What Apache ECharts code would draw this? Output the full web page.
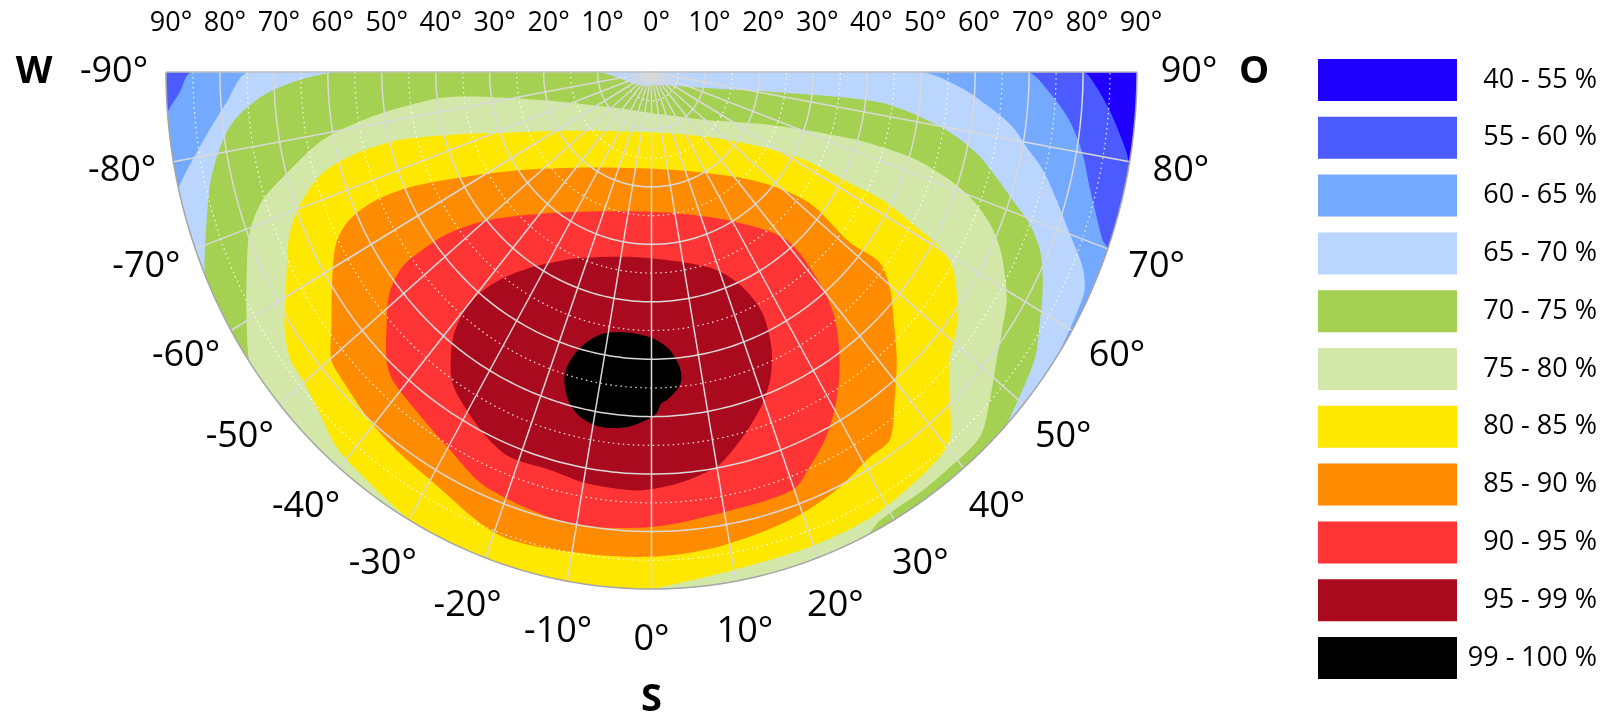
<!DOCTYPE html>
<html><head><meta charset="utf-8">
<script src="https://cdn.jsdelivr.net/npm/echarts/dist/echarts.min.js"></script>
<style>html,body{margin:0;padding:0;background:#fff}#c{width:1602px;height:717px}</style>
</head><body><div id="c"></div>
<script>
// ---- legend classes ----
const levelLabels = ['40 - 55 %','55 - 60 %','60 - 65 %','65 - 70 %','70 - 75 %','75 - 80 %','80 - 85 %','85 - 90 %','90 - 95 %','95 - 99 %','99 - 100 %'];
const levelColors = ['#1F00FF','#4B5BFF','#73A9FF','#BAD6FF','#A5D152','#D3E8A8','#FFE800','#FF8C00','#FF3535','#AA0A1E','#000000'];
// ---- axis ticks ----
const azimuthTicks = [-90,-80,-70,-60,-50,-40,-30,-20,-10,0,10,20,30,40,50,60,70,80,90];
const tiltTicks = [0,10,20,30,40,50,60,70,80,90];
const tiltGrid = [5,10,15,20,25,30,35,40,45,50,55,60,65,70,75,80,85];
const compass = ['W','O','S'];
// ---- contour regions (value >= class lower bound), points as [azimuth, tilt] ----
const contour40 = [[-90,90],[90,90],[0,0]];
const contour55 = [[90,79.9],[88.2,82.5],[85.5,85.2],[83,87.4],[80.9,89.2],[79.5,90],[-90,90],[0,0]];
const contour60 = [[90,69.5],[87.2,73.9],[83.8,77.9],[80,81.1],[76.2,83.6],[73,86.3],[70.7,88.6],[70,90],[-85.5,90],[-87.6,87.6],[-90,85.1],[0,0]];
const contour65 = [[90,49.7],[87.4,57.2],[84.4,63],[81.9,67.6],[79.4,70.7],[76.8,74.5],[73.5,78.3],[70.1,82.4],[67,86.8],[64.7,88.8],[62,89.3],[57,90],[-77,90],[-81.1,84.8],[-86.1,79],[-90,74.5],[0,0]];
const contour70 = [[-90,57.8],[-87.4,70.3],[-83.5,78.2],[-77.8,83.3],[-72.3,86.6],[-67,90],[47,90],[54.8,86.9],[58.3,84.5],[62,82.1],[64.9,80],[67,78.1],[69.4,74.8],[71.6,70.5],[74,66.5],[76.8,61.9],[79.3,56.2],[81.3,49.7],[82.8,43.2],[83,37],[81.2,22.7],[74.7,10.6],[33.2,2.7],[-44.5,3.2],[-90,10.2]];
const contour75 = [[-56,90],[-60.1,86.6],[-65,82.8],[-69.4,79.6],[-72.8,75.5],[-75.7,69.2],[-79,62.1],[-81.1,54.2],[-82.5,46.6],[-83.4,37.7],[-76.8,21.3],[-53.9,10.3],[-3,7.1],[50.7,13.2],[67.6,24.3],[72.6,38.5],[73,44.8],[72.7,51.5],[71.2,58.4],[69.5,63.5],[67.2,68],[64.7,71.4],[61.9,74.2],[58.9,76.9],[55.7,78.8],[51.9,81.3],[47.7,84.8],[43.8,88],[38.4,88.3],[34.8,88.5],[28.6,88.8],[26.5,90]];
const contour80 = [[-30,90],[-36.6,88.5],[-41.8,87.6],[-46,85.5],[-50.4,84],[-53.4,83.5],[-56.9,81.2],[-62.2,76.5],[-67.3,72.7],[-71,68.4],[-73.9,63.5],[-75.5,56.5],[-75.8,48.2],[-73.7,39],[-69.4,30.1],[-59,19.9],[-30,11.9],[25.7,12],[53.2,20.4],[61.4,31.3],[62.2,41.5],[62.5,48.3],[61.2,56],[60.3,61.5],[58.7,65.3],[55.8,68.4],[51.9,71.9],[47.8,74.6],[44.1,79.5],[40.8,84.6],[38,85.8],[32.4,86.8],[27.1,87.6],[19.5,87.7],[9.8,88],[0,90]];
const contour85 = [[-63.5,41.8],[-56.6,31.3],[-41.6,22.3],[-7.6,16.9],[27.1,19.6],[46.3,27.7],[52.1,37.1],[51.1,47.2],[51.9,53.7],[49.7,57.9],[45.4,63.2],[42.2,67.7],[38.3,72.7],[34.6,77.8],[31.1,78.3],[25.2,80.4],[18.2,82.1],[8.3,83.6],[-0.3,84.4],[-10.3,84.9],[-19.5,85.4],[-30,82],[-36,81],[-41,80],[-46.9,78.5],[-49.8,77.7],[-53.2,74.1],[-58.9,69.1],[-63,65.6],[-65.3,61.7],[-66.4,55.7],[-65.9,49.1]];
const contour90 = [[-53.2,46.8],[-49.4,39.6],[-37.1,30.8],[-16.6,25.3],[9.4,24.9],[30.8,30.4],[40.6,38.5],[40.3,48.2],[38.5,54.5],[34.8,61.1],[31,66.6],[27,71.3],[23.1,74.7],[19.8,77.3],[11.1,77.7],[0,79.2],[-11,80],[-23,78.5],[-30,75.5],[-36,73.5],[-41.8,72],[-44.4,70.2],[-47.9,66.2],[-51.6,62],[-53.7,57.3],[-53.9,52.6]];
const contour95 = [[-37.5,61],[-39.2,57.2],[-39.9,51.7],[-37.9,45.9],[-33,40.5],[-27.4,37.1],[-21.6,34.8],[-6.2,32.4],[9.9,33.6],[19.3,36.5],[24.3,41.1],[26.1,46.7],[24.9,52.8],[22.6,57.5],[19.7,61.2],[16.4,64.4],[12.9,67.5],[9.9,69.8],[4.6,71.6],[0.1,72.6],[-2.8,72.9],[-9.6,72.6],[-15.3,71.8],[-21.4,72],[-25.7,70.5],[-30.2,68.1],[-34.3,65.5]];
const contour99 = [[-8,45.7],[-12,46.8],[-15.5,49.9],[-17,53.7],[-16.6,56.5],[-14.8,59.6],[-12.2,61.6],[-8.9,62.5],[-4.3,62],[-0.9,60.6],[0.9,59.4],[1.8,57.7],[2.8,57.2],[4.8,55.6],[5.9,53.9],[5.8,51.6],[4.5,49.1],[3.3,47.9],[0.2,46.3],[-4.4,45.6]];
const contours = [contour40,contour55,contour60,contour65,contour70,contour75,contour80,contour85,contour90,contour95,contour99];

const FONT = '"Open Sans", "Noto Sans", sans-serif';

// azimuth/tilt -> plane (east component, south component), then through the axes
function proj(api, a, t) {
  const r = a * Math.PI / 180;
  return api.coord([t * Math.sin(r), t * Math.cos(r)]);
}
// follow the rim (tilt 90) between consecutive rim points
function densify(poly) {
  const out = [];
  for (let i = 0; i < poly.length; i++) {
    const p = poly[i], q = poly[(i + 1) % poly.length];
    out.push(p);
    if (p[1] === 90 && q[1] === 90) {
      const n = Math.ceil(Math.abs(q[0] - p[0]));
      for (let k = 1; k < n; k++) out.push([p[0] + (q[0] - p[0]) * k / n, 90]);
    }
  }
  return out;
}

const series = contours.map((poly, idx) => ({
  type: 'custom', name: levelLabels[idx], coordinateSystem: 'cartesian2d',
  silent: true, z: 2 + idx,
  itemStyle: { color: levelColors[idx] },
  data: [[0, 0]],
  renderItem: function (params, api) {
    const pts = densify(poly).map(p => proj(api, p[0], p[1]));
    const lo = proj(api, -90, 0), hi = proj(api, 90, 0), bot = proj(api, 0, 90), lft = proj(api, -90, 90), rgt = proj(api, 90, 90);
    const box = [[lft[0], lo[1]], [rgt[0], bot[1]]];
    const shape = { points: pts };
    if (idx > 0) { shape.smooth = 0.3; shape.smoothConstraint = box; }
    return { type: 'polygon', shape: shape, style: { fill: levelColors[idx], stroke: null } };
  }
}));

// grid lines + labels
series.push({
  type: 'custom', name: 'grid', coordinateSystem: 'cartesian2d', silent: true, z: 20,
  data: [[0, 0]],
  renderItem: function (params, api) {
    const ch = [];
    tiltGrid.forEach(t => {
      const pts = [];
      for (let a = -90; a <= 90; a += 1) pts.push(proj(api, a, t));
      const solid = t % 10 === 0;
      ch.push({ type: 'polyline', shape: { points: pts },
        style: solid ? { stroke: '#D9D9D9', lineWidth: 1.5, fill: null }
                     : { stroke: 'rgba(255,255,255,0.9)', lineWidth: 1.2, lineDash: [1.5, 3.5], fill: null } });
    });
    azimuthTicks.forEach(a => {
      if (Math.abs(a) === 90) return;
      const p0 = proj(api, a, 0), p1 = proj(api, a, 90);
      ch.push({ type: 'line', shape: { x1: p0[0], y1: p0[1], x2: p1[0], y2: p1[1] },
        style: { stroke: '#D9D9D9', lineWidth: 1.5 } });
    });
    // rim + top edge
    const rim = [];
    for (let a = -90; a <= 90; a += 1) rim.push(proj(api, a, 90));
    ch.push({ type: 'polyline', shape: { points: rim }, style: { stroke: '#A6A6A6', lineWidth: 1.5, fill: null } });
    const l = proj(api, -90, 90), r = proj(api, 90, 90), c = proj(api, 0, 0);
    ch.push({ type: 'line', shape: { x1: l[0], y1: l[1], x2: r[0], y2: r[1] }, style: { stroke: '#BFBFBF', lineWidth: 1.5 } });

    // tilt labels along the top
    tiltTicks.forEach(t => {
      const sides = t === 0 ? [0] : [-90, 90];
      sides.forEach(s => {
        const p = proj(api, s === 0 ? -90 : s, t);
        ch.push({ type: 'text', x: p[0] + (s === 90 ? 4 : 5), y: c[1] - 49,
          style: { text: t + '°', fill: '#000', fontSize: 27, fontFamily: FONT, align: 'center', verticalAlign: 'middle' } });
      });
    });
    // azimuth labels around the rim
    azimuthTicks.forEach(a => {
      const p = proj(api, a, 90), rr = a * Math.PI / 180;
      ch.push({ type: 'text', x: p[0] + 52 * Math.sin(rr), y: p[1] + 51 * Math.cos(rr),
        style: { text: a + '°', fill: '#000', fontSize: 36, fontFamily: FONT, align: 'center', verticalAlign: 'middle' } });
    });
    const s = proj(api, 0, 90);
    const cpos = [[l[0] - 132, l[1]], [r[0] + 117, r[1]], [s[0], s[1] + 111]];
    compass.forEach((txt, i) => {
      ch.push({ type: 'text', x: cpos[i][0], y: cpos[i][1],
        style: { text: txt, fill: '#000', fontSize: 38, fontWeight: 'bold', fontFamily: FONT, align: 'center', verticalAlign: 'middle' } });
    });
    return { type: 'group', children: ch };
  }
});

const chart = echarts.init(document.getElementById('c'), null, { renderer: 'canvas' });
chart.setOption({
  animation: false,
  backgroundColor: '#ffffff',
  grid: { left: 166, top: 72, width: 971, height: 517, containLabel: false },
  xAxis: { type: 'value', min: -90, max: 90, show: false },
  yAxis: { type: 'value', min: 0, max: 90, inverse: true, show: false },
  legend: {
    data: levelLabels, orient: 'vertical', left: 1318, top: 59, padding: 0,
    itemWidth: 139, itemHeight: 42, itemGap: 15.8, icon: 'rect', selectedMode: false,
    formatter: '{a|{name}}',
    textStyle: { rich: { a: { width: 135, align: 'right', fontSize: 27, fontFamily: FONT, color: '#000' } } }
  },
  series: series
});
</script>
</body></html>
